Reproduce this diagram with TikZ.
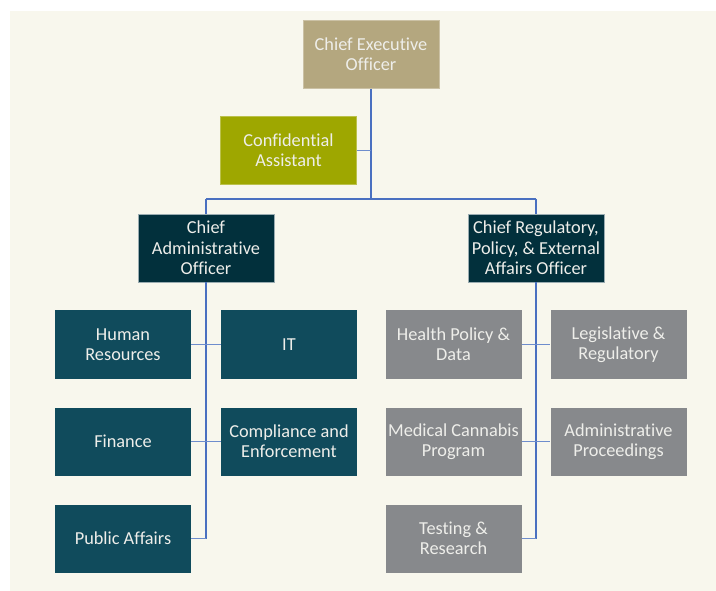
\documentclass[tikz,border=0pt]{standalone}
\usepackage{fontspec}
\setmainfont{Carlito}[Ligatures=NoCommon]
\definecolor{bgc}{HTML}{F8F7ED}
\definecolor{ceoc}{HTML}{B4A77F}
\definecolor{cac}{HTML}{9EA700}
\definecolor{chiefc}{HTML}{02303C}
\definecolor{tealc}{HTML}{104B5C}
\definecolor{grayc}{HTML}{87898C}
\definecolor{txtc}{HTML}{EEEEEA}
\definecolor{linec}{HTML}{4A70C0}
\begin{document}
\begin{tikzpicture}[x=1pt,y=-1pt,
  box/.style={rectangle, minimum width=136pt, minimum height=68pt, inner sep=0pt,
    align=center, text=txtc, font=\fontsize{18.3}{20.3}\selectfont},
  topbox/.style={box, line width=0.7pt},
  ceobox/.style={topbox, fill=ceoc, draw=ceoc!70!white},
  cabox/.style={topbox, fill=cac, draw=cac!70!white},
  chiefbox/.style={topbox, fill=chiefc, draw=chiefc!40!white},
  tealbox/.style={box, fill=tealc},
  graybox/.style={box, fill=grayc},
  trunk/.style={draw=linec, line width=1.6pt},
  branch/.style={draw=linec!80!white, line width=1.3pt}
]
\useasboundingbox (0,0) rectangle (716,591);
\fill[bgc] (10,11) rectangle (716,591);

\coordinate (j) at (371,199);
\coordinate (jl) at (206,199);
\coordinate (jr) at (536,199);
\coordinate (lend) at (206,538.5);
\coordinate (rend) at (536,538.5);

\node[ceobox] (ceo) at (371,54.5) {Chief Executive\\Officer};
\node[cabox] (ca) at (288.5,150.5) {Confidential\\Assistant};
\node[chiefbox] (cao) at (206,248) {Chief\\Administrative\\Officer};
\node[chiefbox] (cro) at (536,248) {Chief Regulatory,\\Policy, \& External\\Affairs Officer};

\node[tealbox] (hr) at (123,344.5) {Human\\Resources};
\node[tealbox] (it) at (289,344.5) {IT};
\node[tealbox] (fin) at (123,441.5) {Finance};
\node[tealbox] (comp) at (289,441.5) {Compliance and\\Enforcement};
\node[tealbox] (pa) at (123,538.5) {Public Affairs};

\node[graybox] (hp) at (453.5,344.5) {Health Policy \&\\Data};
\node[graybox] (leg) at (618.5,344.5) {Legislative \&\\Regulatory};
\node[graybox] (mc) at (453.5,441.5) {Medical Cannabis\\Program};
\node[graybox] (adm) at (618.5,441.5) {Administrative\\Proceedings};
\node[graybox] (test) at (453.5,538.5) {Testing \&\\Research};

\draw[trunk] (ceo.south) -- (j);
\draw[trunk] (jl) -- (jr);
\draw[trunk] (jl) -- (cao.north);
\draw[trunk] (jr) -- (cro.north);
\draw[branch] (ca.east) -- (ca.east -| ceo.south);

\draw[trunk] (cao.south) -- (lend);
\draw[branch] (hr.east) -- (it.west);
\draw[branch] (fin.east) -- (comp.west);
\draw[branch] (pa.east) -- (lend);

\draw[trunk] (cro.south) -- (rend);
\draw[branch] (hp.east) -- (leg.west);
\draw[branch] (mc.east) -- (adm.west);
\draw[branch] (test.east) -- (rend);
\end{tikzpicture}
\end{document}
